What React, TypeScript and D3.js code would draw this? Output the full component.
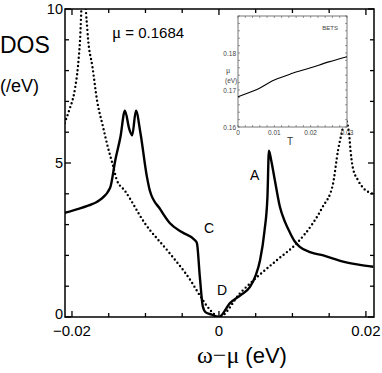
import React from 'react';
import * as d3 from 'd3';

// DOS at mu (solid)
const solidOmega = [
  -0.021, -0.019, -0.018, -0.0162, -0.0148, -0.0141, -0.0134, -0.0128, -0.0122, -0.0118,
  -0.0113, -0.0107, -0.0098, -0.0094, -0.008, -0.0067, -0.005, -0.0033, -0.003, -0.0026,
  -0.0022, -0.0018, -0.001, 0.0, 0.0015, 0.003, 0.0042, 0.005, 0.0056, 0.0062,
  0.0066, 0.0068, 0.0071, 0.0076, 0.0083, 0.009, 0.0097, 0.0103, 0.011, 0.0125,
  0.0142, 0.0169, 0.019, 0.021,
];
const solidDos = [
  3.38, 3.52, 3.6, 3.8, 4.2, 5.1, 5.85, 6.7, 6.1, 5.9,
  6.7, 6.0, 4.55, 4.1, 3.5, 3.05, 2.75, 2.5, 2.4, 1.3,
  0.35, 0.15, 0.08, 0.0, 0.45, 0.72, 0.97, 1.35, 1.85, 2.8,
  3.9, 5.4, 5.1, 4.45, 3.57, 3.08, 2.72, 2.46, 2.28, 2.1,
  2.0, 1.8, 1.7, 1.63,
];

// dotted curve
const dottedOmega = [
  -0.021, -0.0204, -0.0196, -0.0192, -0.0189, -0.0186, -0.0183, -0.018, -0.0178, -0.0172,
  -0.0166, -0.0158, -0.0151, -0.0144, -0.0139, -0.0128, -0.0101, -0.0067, -0.0039, -0.0026,
  -0.0012, 0.0, 0.0029, 0.0052, 0.0079, 0.0106, 0.0128, 0.0141, 0.0155, 0.0162,
  0.0167, 0.0172, 0.0177, 0.0179, 0.0182, 0.0189, 0.0196, 0.021,
];
const dottedDos = [
  6.3, 6.7, 7.4, 8.1, 9.0, 10.4, 10.4, 9.6, 9.0, 8.1,
  7.05, 6.2, 5.5, 4.9, 4.45, 4.1, 3.05, 2.07, 1.2, 0.7,
  0.23, 0.0, 0.78, 1.3, 1.85, 2.4, 3.05, 3.57, 4.3, 5.4,
  5.97, 6.4, 5.97, 5.42, 4.87, 4.45, 4.2, 4.0,
];

// inset: mu(T)
const insetT = [0, 0.0047, 0.01, 0.015, 0.02, 0.025, 0.03];
const insetMu = [0.1682, 0.1699, 0.1727, 0.1745, 0.176, 0.1776, 0.179];

const xTickLabels = [-0.02, 0, 0.02];
const yTickLabels = [0, 5, 10];
const insetXLabels = [0, 0.01, 0.02, 0.03];
const insetYLabels = [0.16, 0.17, 0.18];

const sans = 'Liberation Sans, Arial, sans-serif';
const serif = 'Liberation Serif, Times New Roman, serif';

export default function App() {
  const W = 382;
  const H = 373;
  const L = 65, R = 374, T = 9, B = 317;

  const x = d3.scaleLinear().domain([-0.02095, 0.0211]).range([L, R]);
  const y = d3.scaleLinear().domain([0, 10]).range([B, T]);

  const solidPath = d3
    .line<number>()
    .x((_, i) => x(solidOmega[i]))
    .y((d) => y(d))
    .curve(d3.curveMonotoneX)(solidDos);
  const dottedPath = d3
    .line<number>()
    .x((_, i) => x(dottedOmega[i]))
    .y((d) => y(d))
    .curve(d3.curveMonotoneX)(dottedDos);

  const xMinor = d3.range(-0.02, 0.0201, 0.005);
  const yMinor = d3.range(0, 10.01, 1);

  // inset
  const iL = 238, iR = 347, iT = 16, iB = 127;
  const ix = d3.scaleLinear().domain([0, 0.03]).range([iL, iR]);
  const iy = d3.scaleLinear().domain([0.16, 0.19]).range([iB, iT]);
  const insetPath = d3
    .line<number>()
    .x((_, i) => ix(insetT[i]))
    .y((d) => iy(d))
    .curve(d3.curveMonotoneX)(insetMu);
  const ixMinor = d3.range(0, 0.0301, 0.002);
  const iyMinor = d3.range(0.16, 0.1901, 0.002);

  return (
    <svg
      width={W}
      height={H}
      style={{ position: 'absolute', left: 0, top: 0, background: '#fff' }}
    >
      <defs>
        <clipPath id="plotClip">
          <rect x={L} y={T} width={R - L} height={B - T} />
        </clipPath>
      </defs>

      {/* curves */}
      <g clipPath="url(#plotClip)">
        <path
          d={dottedPath || ''}
          fill="none"
          stroke="#000"
          strokeWidth={2.4}
          strokeDasharray="0,4.2"
          strokeLinecap="round"
        />
        <path d={solidPath || ''} fill="none" stroke="#000" strokeWidth={2.4} strokeLinejoin="round" />
      </g>

      {/* frame */}
      <rect x={L} y={T} width={R - L} height={B - T} fill="none" stroke="#000" strokeWidth={1.5} />

      {/* ticks */}
      {xMinor.map((v, i) => {
        const major = xTickLabels.some((t) => Math.abs(t - v) < 1e-9);
        const len = major ? 6 : 4;
        return (
          <g key={'xt' + i}>
            <line x1={x(v)} x2={x(v)} y1={B} y2={B - len} stroke="#000" strokeWidth={1.3} />
            <line x1={x(v)} x2={x(v)} y1={T} y2={T + len} stroke="#000" strokeWidth={1.3} />
          </g>
        );
      })}
      {yMinor.map((v, i) => {
        const major = yTickLabels.includes(Math.round(v));
        const len = major ? 6 : 4;
        return (
          <g key={'yt' + i}>
            <line x1={L} x2={L + len} y1={y(v)} y2={y(v)} stroke="#000" strokeWidth={1.3} />
            <line x1={R} x2={R - len} y1={y(v)} y2={y(v)} stroke="#000" strokeWidth={1.3} />
          </g>
        );
      })}

      {/* tick labels */}
      {xTickLabels.map((v) => (
        <text
          key={'xl' + v}
          x={x(v)}
          y={336}
          textAnchor="middle"
          fontFamily={sans}
          fontSize={15}
        >
          {v === 0 ? '0' : d3.format('.2f')(v).replace('-', '\u2212')}
        </text>
      ))}
      {yTickLabels.map((v) => (
        <text
          key={'yl' + v}
          x={L - 2}
          y={y(v) + (v === 0 ? 1.5 : 5)}
          textAnchor="end"
          fontFamily={sans}
          fontSize={14.5}
        >
          {v}
        </text>
      ))}

      {/* axis titles */}
      <text x={0} y={53} fontFamily={sans} fontSize={23}>DOS</text>
      <text x={0} y={92} fontFamily={sans} fontSize={18}>(/eV)</text>
      <text x={112} y={38} fontFamily={sans} fontSize={15}>
        <tspan fontFamily={serif} fontSize={17}>μ</tspan> = 0.1684
      </text>
      <text x={242} y={363} textAnchor="middle" fontSize={22}>
        <tspan fontFamily={serif} fontSize={24}>ω−μ</tspan>
        <tspan fontFamily={sans}> (eV)</tspan>
      </text>

      {/* point labels */}
      <text x={250} y={180} fontFamily={sans} fontSize={14}>A</text>
      <text x={204} y={233} fontFamily={sans} fontSize={14}>C</text>
      <text x={217} y={295} fontFamily={sans} fontSize={14}>D</text>

      {/* inset */}
      <rect x={iL} y={iT} width={iR - iL} height={iB - iT} fill="#fff" stroke="#555" strokeWidth={0.8} />
      {ixMinor.map((v, i) => (
        <g key={'ixt' + i}>
          <line x1={ix(v)} x2={ix(v)} y1={iB} y2={iB - 2} stroke="#555" strokeWidth={0.6} />
          <line x1={ix(v)} x2={ix(v)} y1={iT} y2={iT + 2} stroke="#555" strokeWidth={0.6} />
        </g>
      ))}
      {iyMinor.map((v, i) => (
        <g key={'iyt' + i}>
          <line x1={iL} x2={iL + 2} y1={iy(v)} y2={iy(v)} stroke="#555" strokeWidth={0.6} />
          <line x1={iR} x2={iR - 2} y1={iy(v)} y2={iy(v)} stroke="#555" strokeWidth={0.6} />
        </g>
      ))}
      <path d={insetPath || ''} fill="none" stroke="#000" strokeWidth={1.1} />
      {insetXLabels.map((v) => (
        <text
          key={'ixl' + v}
          x={ix(v)}
          y={iB + 8}
          textAnchor="middle"
          fontFamily={sans}
          fontSize={6.5}
          fill="#444"
        >
          {v === 0 ? '0' : d3.format('.2f')(v)}
        </text>
      ))}
      {insetYLabels.map((v) => (
        <text
          key={'iyl' + v}
          x={iL - 2}
          y={iy(v) + 2.5}
          textAnchor="end"
          fontFamily={sans}
          fontSize={6.5}
          fill="#444"
        >
          {d3.format('.2f')(v)}
        </text>
      ))}
      <text x={226} y={73} fontFamily={serif} fontSize={8} fill="#444">μ</text>
      <text x={225} y={83} fontFamily={sans} fontSize={6.5} fill="#444">(eV)</text>
      <text x={290} y={145} textAnchor="middle" fontFamily={sans} fontSize={10} fill="#333">T</text>
      <text x={338} y={30} textAnchor="end" fontFamily={sans} fontSize={6} fill="#444">BETS</text>
    </svg>
  );
}
